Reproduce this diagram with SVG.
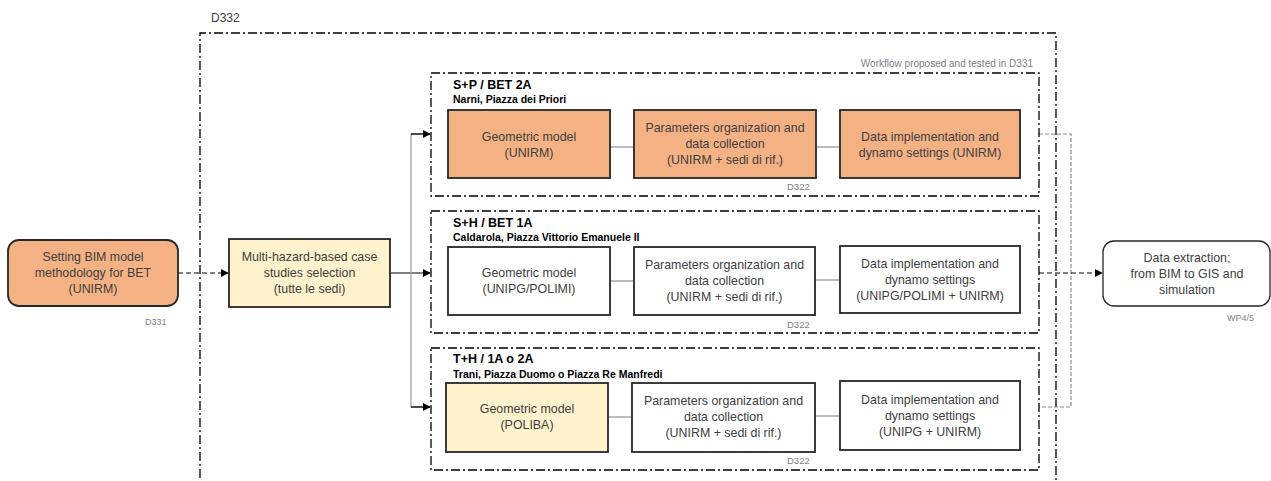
<svg xmlns="http://www.w3.org/2000/svg" width="1271" height="481" viewBox="0 0 1271 481">
<defs>
<marker id="ah" viewBox="0 0 10 10" refX="9" refY="5" markerWidth="8" markerHeight="8" markerUnits="userSpaceOnUse" orient="auto"><path d="M0,0 L10,5 L0,10 z" fill="#000"/></marker>
<style>
.box{stroke:#262626;stroke-width:1.8}
.sal{fill:#F4B183}
.yel{fill:#FFF2CC}
.wht{fill:#fff}
.grp{fill:none;stroke:#000;stroke-width:1.3;stroke-dasharray:9 3 2 3}
.t{font-family:"Liberation Sans",Arial,sans-serif;font-size:12.4px;fill:#404040;text-anchor:middle}
.h{font-family:"Liberation Sans",Arial,sans-serif;font-size:12.5px;font-weight:bold;fill:#000}
.s{font-family:"Liberation Sans",Arial,sans-serif;font-size:10.5px;font-weight:bold;fill:#000}
.sm{font-family:"Liberation Sans",Arial,sans-serif;font-size:9.5px;fill:#7F7F7F}
.lk{stroke:#A6A6A6;stroke-width:1.5;fill:none}
</style>
</defs>
<rect width="1271" height="481" fill="#fff"/>

<g id="outer-D332">
<path class="grp" d="M200,495 L200,33 L1056,33 L1056,495"/>
<text x="211" y="22" style="font-family:'Liberation Sans',Arial,sans-serif;font-size:12px;fill:#404040">D332</text>
</g>

<g id="connectors">
<line x1="178" y1="273" x2="228" y2="273" stroke="#000" stroke-width="1.2" stroke-dasharray="5 3" marker-end="url(#ah)"/>
<line x1="390" y1="273" x2="430" y2="273" stroke="#000" stroke-width="1.2" marker-end="url(#ah)"/>
<path d="M430,134 L411,134 L411,407 L430,407" fill="none" stroke="#A6A6A6" stroke-width="1.3"/>
<line x1="411" y1="134" x2="430" y2="134" stroke="#000" stroke-width="1.2" marker-end="url(#ah)"/>
<line x1="411" y1="407" x2="430" y2="407" stroke="#000" stroke-width="1.2" marker-end="url(#ah)"/>
<path d="M1039,134 L1071,134 L1071,407 L1039,407" fill="none" stroke="#8C8C8C" stroke-width="1.2" stroke-dasharray="4 2"/>
<line x1="1039" y1="273" x2="1102" y2="273" stroke="#000" stroke-width="1.2" stroke-dasharray="5 3" marker-end="url(#ah)"/>
<line class="lk" x1="610" y1="147" x2="634" y2="147"/>
<line class="lk" x1="816" y1="147" x2="840" y2="147"/>
<line class="lk" x1="610" y1="281" x2="634" y2="281"/>
<line class="lk" x1="815" y1="280" x2="840" y2="280"/>
<line class="lk" x1="608" y1="417" x2="632" y2="417"/>
<line class="lk" x1="815" y1="416" x2="840" y2="416"/>
</g>

<g id="n-setting">
<rect class="box sal" x="8" y="240" width="170" height="66" rx="11"/>
<text class="t" x="93" y="261">Setting BIM model</text>
<text class="t" x="93" y="277">methodology for BET</text>
<text class="t" x="93" y="293">(UNIRM)</text>
<text class="sm" x="145" y="325" style="font-size:9px">D331</text>
</g>

<g id="n-multihazard">
<rect class="box yel" x="229" y="239" width="161" height="68"/>
<text class="t" x="309.500" y="261">Multi-hazard-based case</text>
<text class="t" x="309.500" y="277">studies selection</text>
<text class="t" x="309.500" y="293">(tutte le sedi)</text>
</g>

<g id="g-workflow-label">
<text class="sm" x="1033" y="67" text-anchor="end" style="font-size:10px">Workflow proposed and tested in D331</text>
</g>

<g id="g-sp">
<rect class="grp" x="431" y="73" width="608" height="123"/>
<text class="h" x="453" y="89">S+P / BET 2A</text>
<text class="s" x="453" y="103">Narni, Piazza dei Priori</text>
<text class="sm" x="787" y="190">D322</text>
</g>
<g id="n-sp-geo">
<rect class="box sal" x="448" y="110" width="162" height="68"/>
<text class="t" x="529" y="141">Geometric model</text>
<text class="t" x="529" y="157">(UNIRM)</text>
</g>
<g id="n-sp-param">
<rect class="box sal" x="634" y="110" width="182" height="68"/>
<text class="t" x="725" y="132">Parameters organization and</text>
<text class="t" x="725" y="148">data collection</text>
<text class="t" x="725" y="164">(UNIRM + sedi di rif.)</text>
</g>
<g id="n-sp-data">
<rect class="box sal" x="840" y="110" width="180" height="68"/>
<text class="t" x="930" y="141">Data implementation and</text>
<text class="t" x="930" y="157">dynamo settings (UNIRM)</text>
</g>

<g id="g-sh">
<rect class="grp" x="431" y="211" width="608" height="122"/>
<text class="h" x="453" y="227">S+H / BET 1A</text>
<text class="s" x="453" y="241">Caldarola, Piazza Vittorio Emanuele II</text>
<text class="sm" x="787" y="328">D322</text>
</g>
<g id="n-sh-geo">
<rect class="box wht" x="448" y="247" width="162" height="68"/>
<text class="t" x="529" y="277">Geometric model</text>
<text class="t" x="529" y="293">(UNIPG/POLIMI)</text>
</g>
<g id="n-sh-param">
<rect class="box wht" x="634" y="247" width="181" height="68"/>
<text class="t" x="724.500" y="269">Parameters organization and</text>
<text class="t" x="724.500" y="285">data collection</text>
<text class="t" x="724.500" y="301">(UNIRM + sedi di rif.)</text>
</g>
<g id="n-sh-data">
<rect class="box wht" x="840" y="246" width="180" height="67"/>
<text class="t" x="930" y="268">Data implementation and</text>
<text class="t" x="930" y="284">dynamo settings</text>
<text class="t" x="930" y="300">(UNIPG/POLIMI + UNIRM)</text>
</g>

<g id="g-th">
<rect class="grp" x="431" y="348" width="608" height="122"/>
<text class="h" x="453" y="363">T+H / 1A o 2A</text>
<text class="s" x="453" y="378">Trani, Piazza Duomo o Piazza Re Manfredi</text>
<text class="sm" x="787" y="464">D322</text>
</g>
<g id="n-th-geo">
<rect class="box yel" x="446" y="383" width="162" height="69"/>
<text class="t" x="527" y="413">Geometric model</text>
<text class="t" x="527" y="429">(POLIBA)</text>
</g>
<g id="n-th-param">
<rect class="box wht" x="632" y="383" width="183" height="69"/>
<text class="t" x="723.500" y="405">Parameters organization and</text>
<text class="t" x="723.500" y="421">data collection</text>
<text class="t" x="723.500" y="437">(UNIRM + sedi di rif.)</text>
</g>
<g id="n-th-data">
<rect class="box wht" x="840" y="381" width="180" height="69"/>
<text class="t" x="930" y="404">Data implementation and</text>
<text class="t" x="930" y="420">dynamo settings</text>
<text class="t" x="930" y="436">(UNIPG + UNIRM)</text>
</g>

<g id="n-extraction">
<rect class="box wht" x="1103" y="241" width="167" height="65" rx="11" style="stroke-width:1.3"/>
<text class="t" x="1187" y="262">Data extraction;</text>
<text class="t" x="1187" y="278">from BIM to GIS and</text>
<text class="t" x="1187" y="294">simulation</text>
<text class="sm" x="1227" y="321" style="font-size:9px">WP4/5</text>
</g>
</svg>
